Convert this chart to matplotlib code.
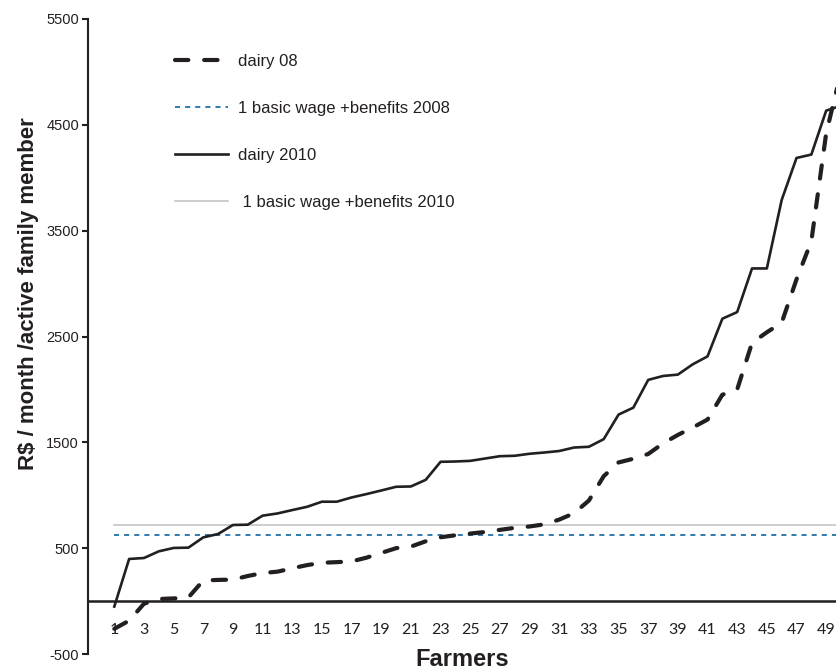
import numpy as np
import matplotlib
matplotlib.use("Agg")
import matplotlib.pyplot as plt

farmers = np.arange(1, 51)
dairy_08 = [-262, -185, -25, 20, 25, 35, 195, 200, 203, 237,
            265, 278, 310, 340, 362, 368, 375, 410, 455, 500,
            515, 565, 603, 622, 638, 653, 673, 692, 705, 725,
            770, 830, 950, 1180, 1310, 1345, 1390, 1490, 1570, 1640,
            1715, 1950, 2000, 2440, 2540, 2630, 3040, 3400, 4420, 5000]
dairy_2010 = [-52, 398, 407, 470, 502, 505, 602, 634, 719, 722,
              807, 828, 860, 891, 939, 939, 979, 1011, 1045, 1080,
              1083, 1146, 1316, 1319, 1325, 1347, 1369, 1373, 1392, 1404,
              1418, 1451, 1458, 1530, 1762, 1828, 2090, 2127, 2140, 2237,
              2312, 2668, 2731, 3143, 3143, 3790, 4187, 4219, 4634, 4680]
wage_2008 = [624] * 50
wage_2010 = [719] * 50
x_ticks = list(range(1, 50, 2))
y_ticks = [-500, 500, 1500, 2500, 3500, 4500, 5500]

plt.rcParams['font.family'] = ['Liberation Sans', 'DejaVu Sans']
dark = '#231f20'

fig = plt.figure(figsize=(8.37, 6.72), dpi=100)
ax = fig.add_axes([88/837, 18/672, 1 - 88/837, (654 - 19)/672])

ax.plot(farmers, dairy_08, color=dark, lw=3.0, dashes=(3.2, 3.8),
        dash_capstyle='round', label='dairy 08', zorder=4)
ax.plot(farmers, wage_2008, color='#1f6fa8', lw=1.3, dashes=(2.8, 2.8),
        label='1 basic wage +benefits 2008', zorder=3)
ax.plot(farmers, dairy_2010, color=dark, lw=1.9, label='dairy 2010', zorder=4)
ax.plot(farmers, wage_2010, color='#bfbfbf', lw=1.1,
        label=' 1 basic wage +benefits 2010', zorder=2)

ax.set_xlim(-0.773, 49.73)
ax.set_ylim(-500, 5500)

for s in ['top', 'right']:
    ax.spines[s].set_visible(False)
ax.spines['bottom'].set_position(('data', 0))
ax.spines['bottom'].set_linewidth(1.8)
ax.spines['bottom'].set_color(dark)
ax.spines['left'].set_linewidth(1.5)
ax.spines['left'].set_color(dark)

ax.set_yticks(y_ticks)
ax.set_yticklabels([str(v) for v in y_ticks], fontsize=10.5, color=dark)
ax.tick_params(axis='y', direction='out', length=4, width=1.5, color=dark, pad=2.5)

ax.set_xticks(x_ticks)
ax.set_xticklabels([str(v) for v in x_ticks], fontsize=11.5, color=dark,
                   family=['Lato', 'DejaVu Sans'])
ax.tick_params(axis='x', length=0, pad=16)

fig.text(462/837, 1 - 660/672, 'Farmers', ha='center', va='center',
         fontsize=17, fontweight='bold', color=dark)
fig.text(29/837, 1 - 294/672, 'R$ / month /active family member', ha='center',
         va='center', rotation=90, fontsize=16, fontweight='bold', color=dark)

leg = ax.legend(loc='upper left', bbox_to_anchor=(175/837, 1 - 54/672),
                bbox_transform=fig.transFigure, frameon=False, fontsize=12,
                handlelength=3.2, handletextpad=0.55, labelspacing=1.92,
                borderpad=0, borderaxespad=0)
for t in leg.get_texts():
    t.set_color(dark)

fig.savefig('out.png', dpi=100)
